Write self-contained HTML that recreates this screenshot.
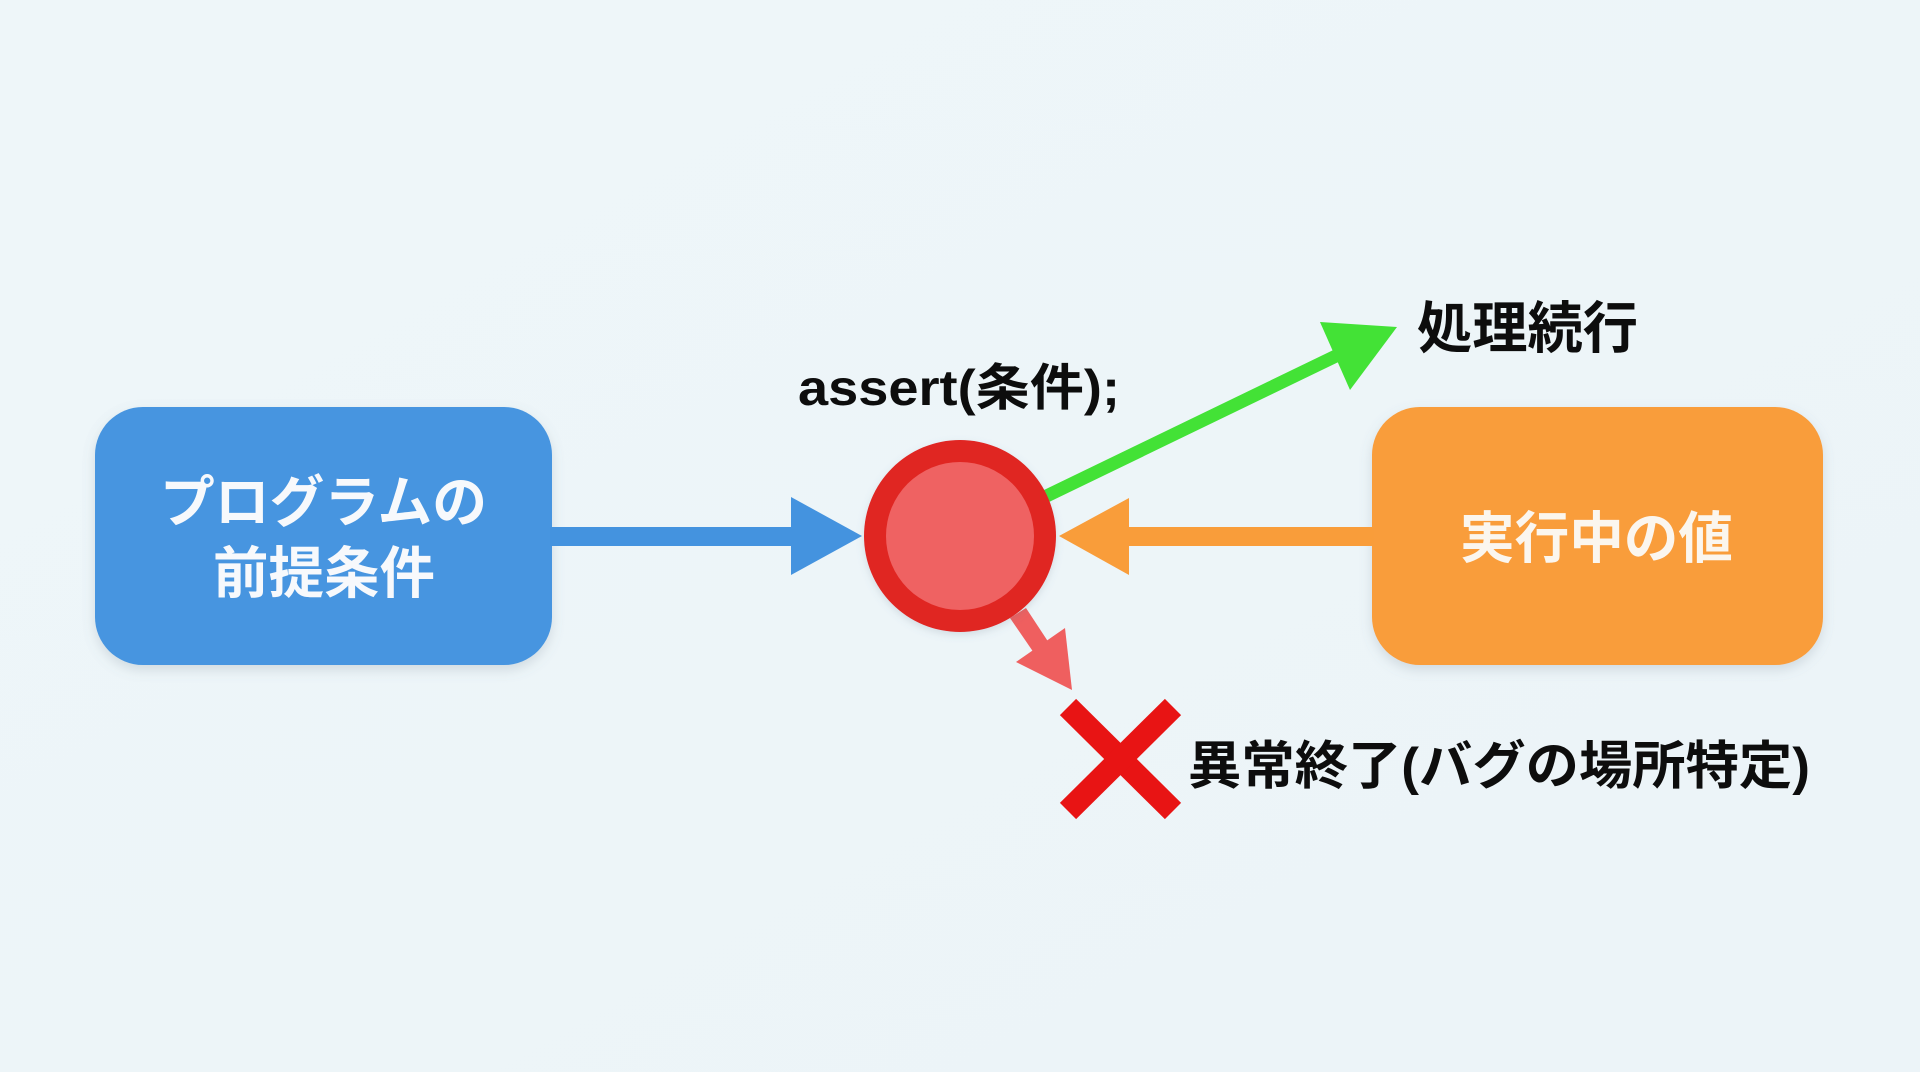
<!DOCTYPE html>
<html>
<head>
<meta charset="utf-8">
<style>
html,body{margin:0;padding:0;}
body{width:1920px;height:1072px;overflow:hidden;background:#edf5f8;}
svg{display:block;}
text{font-family:"Liberation Sans","Noto Sans CJK JP",sans-serif;font-weight:bold;}
</style>
</head>
<body>
<svg width="1920" height="1072" viewBox="0 0 1920 1072" xmlns="http://www.w3.org/2000/svg">
  <defs>
    <linearGradient id="bg" x1="0" y1="0" x2="1" y2="1">
      <stop offset="0" stop-color="#eef6f9"/>
      <stop offset="1" stop-color="#ecf4f8"/>
    </linearGradient>
    <filter id="sh" x="-10%" y="-10%" width="120%" height="130%">
      <feDropShadow dx="0" dy="5" stdDeviation="6" flood-color="#6a7a88" flood-opacity="0.22"/>
    </filter>
    <filter id="sh2" x="-20%" y="-20%" width="140%" height="140%">
      <feDropShadow dx="0" dy="3" stdDeviation="4" flood-color="#6a7a88" flood-opacity="0.2"/>
    </filter>
  </defs>
  <rect x="0" y="0" width="1920" height="1072" fill="url(#bg)"/>

  <!-- Blue box -->
  <rect x="95" y="407" width="457" height="258" rx="48" ry="48" fill="#4695e0" filter="url(#sh)"/>
  <text x="160" y="522" font-size="56" fill="#f7f9fc" textLength="327" lengthAdjust="spacingAndGlyphs">プログラムの</text>
  <text x="213" y="593" font-size="56" fill="#f7f9fc" textLength="222" lengthAdjust="spacingAndGlyphs">前提条件</text>

  <!-- Orange box -->
  <rect x="1372" y="407" width="451" height="258" rx="48" ry="48" fill="#f99d3a" filter="url(#sh)"/>
  <text x="1460" y="558" font-size="56" fill="#fbf6ee" textLength="273" lengthAdjust="spacingAndGlyphs">実行中の値</text>

  <!-- Blue arrow -->
  <rect x="550" y="527" width="243" height="19" fill="#4493df"/>
  <polygon points="791,497 862,536 791,575" fill="#4493df"/>

  <!-- Orange arrow -->
  <rect x="1127" y="527" width="247" height="19" fill="#f99d3a"/>
  <polygon points="1129,498 1059,536 1129,575" fill="#f99d3a"/>

  <!-- Green arrow -->
  <line x1="1030" y1="504" x2="1338" y2="355" stroke="#43e236" stroke-width="13"/>
  <polygon points="1397,327 1320,322 1350,390" fill="#43e236"/>

  <!-- Red down arrow -->
  <polygon points="1010,618 1026,608 1049,643 1034,653" fill="#ef5f5f"/>
  <polygon points="1016,662 1065,628 1072,690" fill="#ef5f5f"/>

  <!-- Circle -->
  <circle cx="960" cy="536" r="96" fill="#e02524" filter="url(#sh2)"/>
  <circle cx="960" cy="536" r="74" fill="#ef6262"/>

  <!-- Red X -->
  <line x1="1068" y1="707" x2="1173" y2="811" stroke="#e81414" stroke-width="23"/>
  <line x1="1173" y1="707" x2="1068" y2="811" stroke="#e81414" stroke-width="23"/>

  <!-- Labels -->
  <text x="798" y="405" font-size="50" fill="#0d0d0d" textLength="322" lengthAdjust="spacingAndGlyphs">assert(条件);</text>
  <text x="1417" y="348" font-size="56" fill="#0d0d0d" textLength="221" lengthAdjust="spacingAndGlyphs">処理続行</text>
  <text x="1188" y="784" font-size="52" fill="#0d0d0d" textLength="622" lengthAdjust="spacingAndGlyphs">異常終了(バグの場所特定)</text>
</svg>
</body>
</html>
